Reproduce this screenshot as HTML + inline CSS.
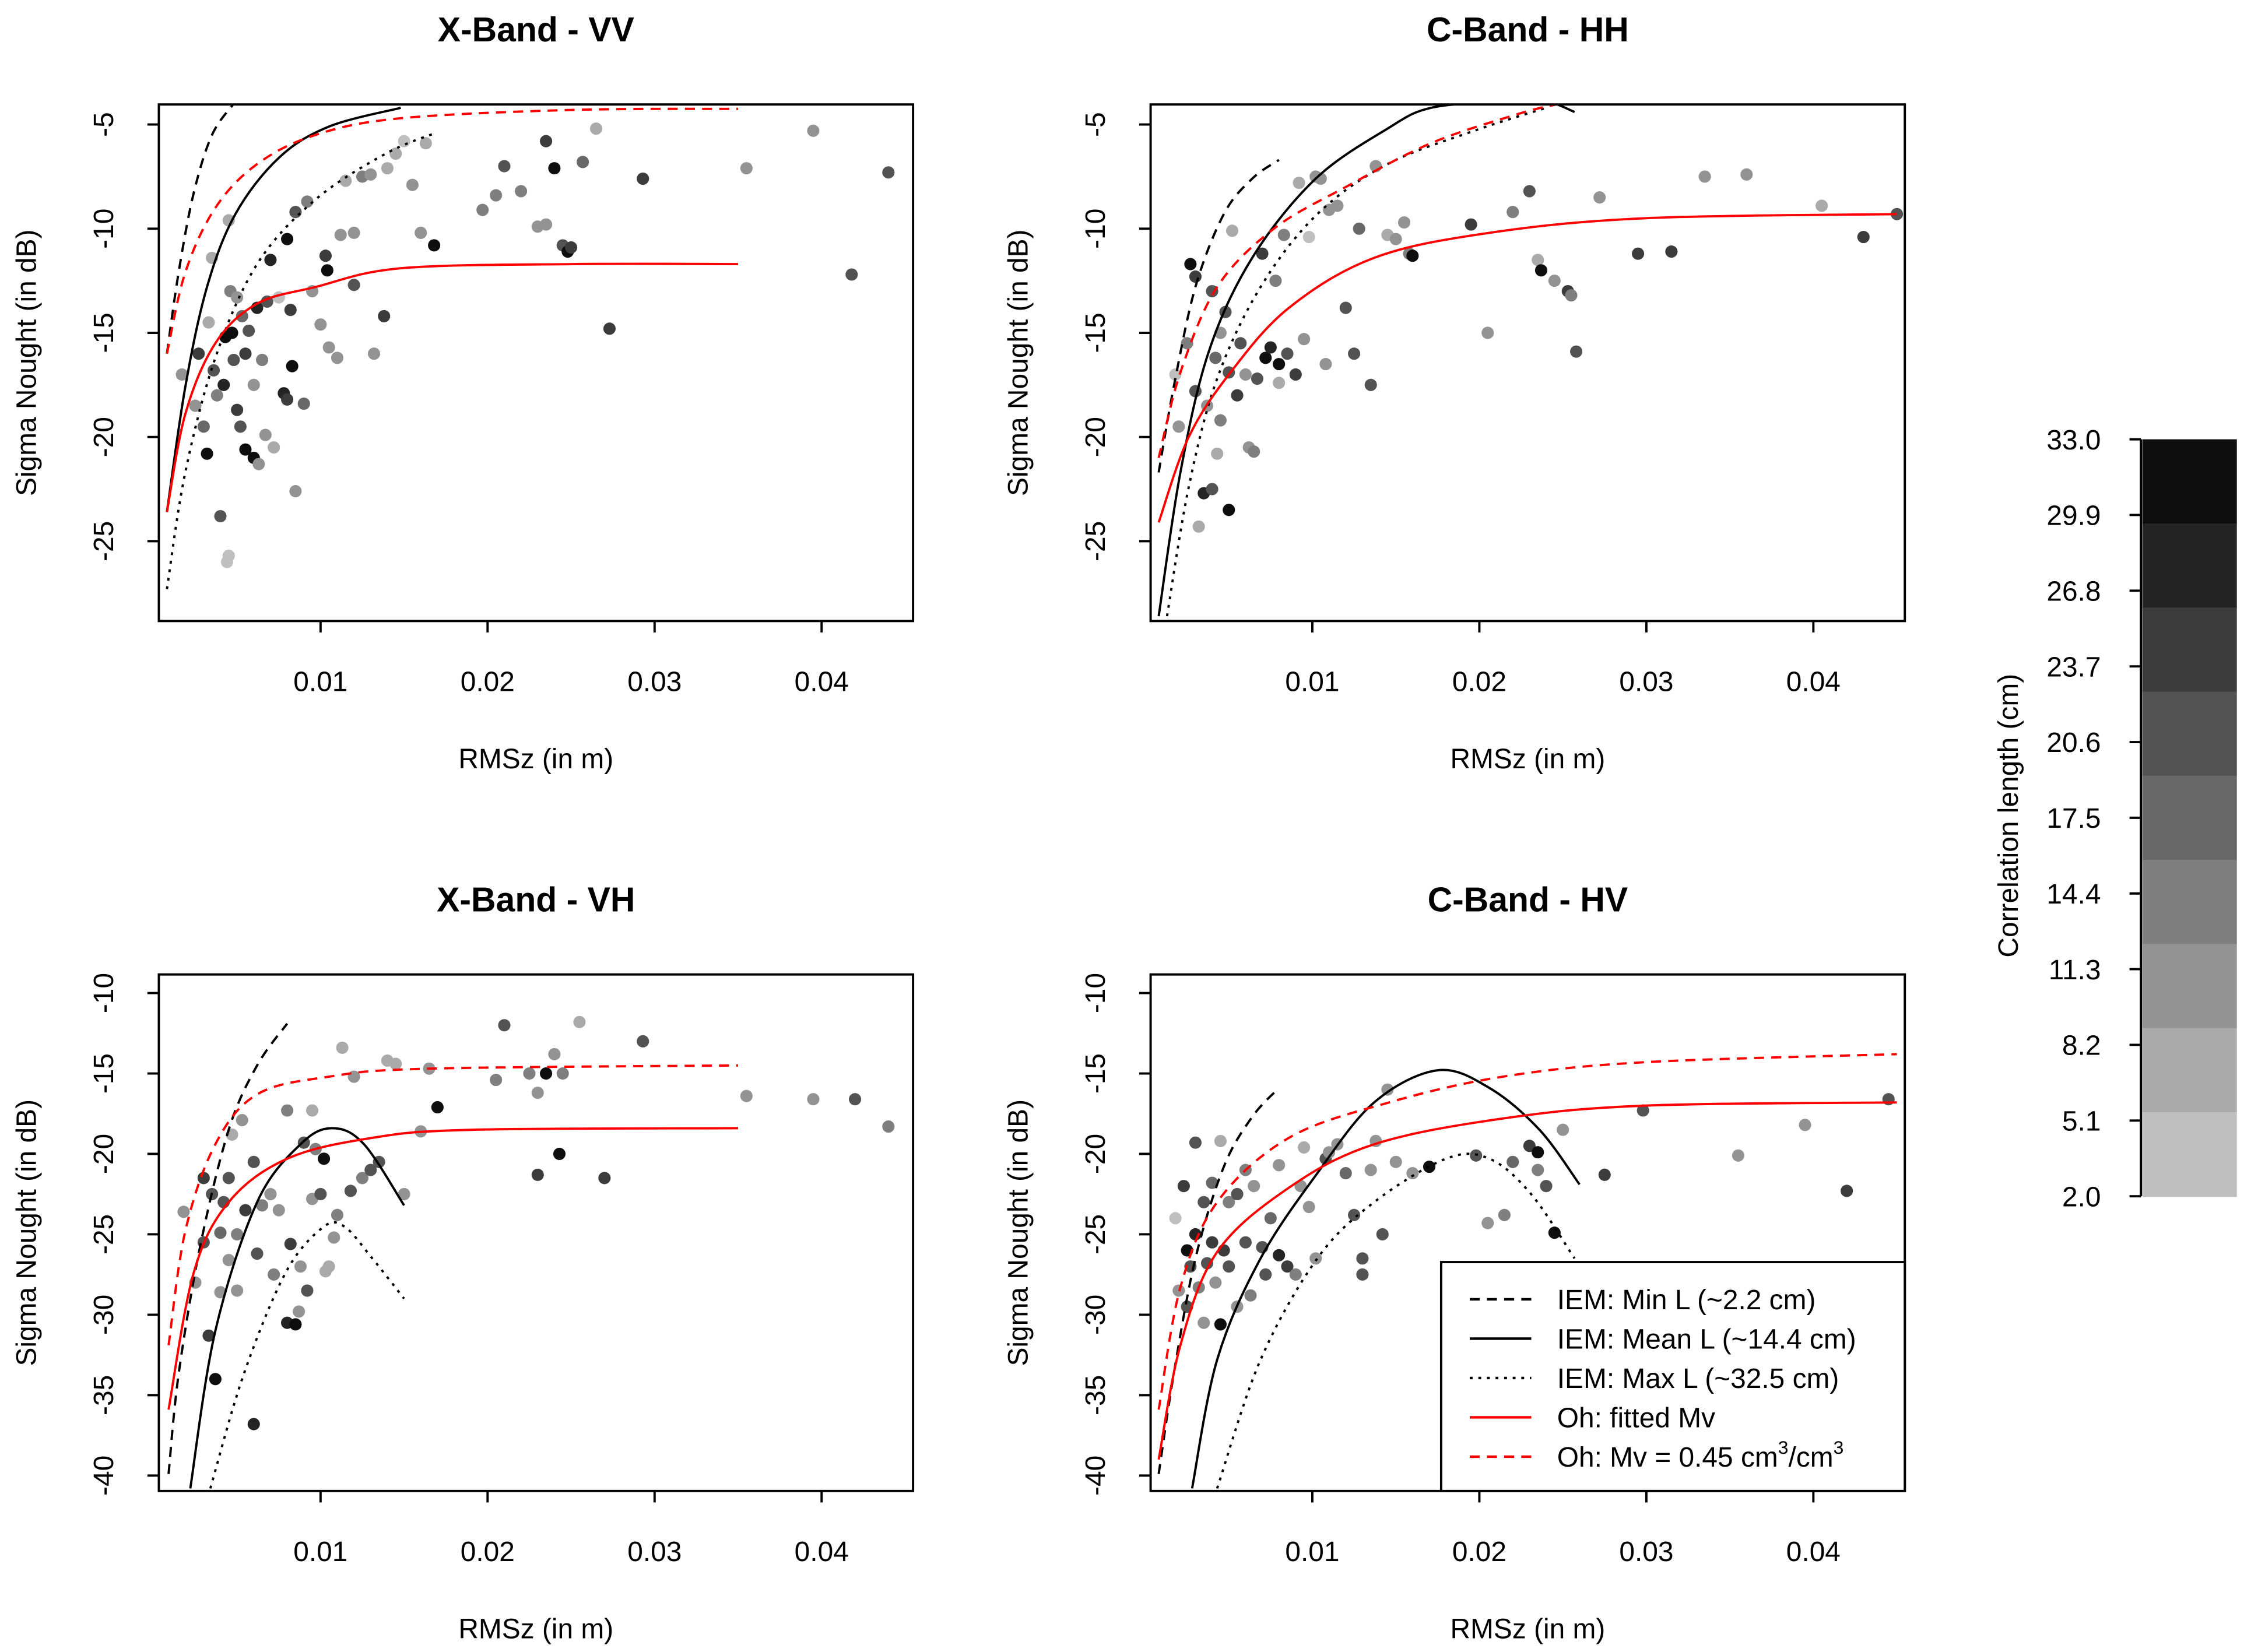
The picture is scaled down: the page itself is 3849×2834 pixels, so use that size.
<!DOCTYPE html>
<html><head><meta charset="utf-8"><style>
html,body{margin:0;padding:0;background:#fff;}
svg{display:block;}
text{font-family:"Liberation Sans",Arial,sans-serif;fill:#000;}
</style></head><body>
<svg id="fig" width="3849" height="2834" viewBox="0 0 1568 1154.5" xmlns="http://www.w3.org/2000/svg"></svg>
<script>
// ---------- data (x: RMSz in m, y: sigma0 in dB, L: correlation length cm) ----------
const xTicks = [0.01, 0.02, 0.03, 0.04];
const xTickLabels = ["0.01", "0.02", "0.03", "0.04"];
const yTicksTop = [-5, -10, -15, -20, -25];
const yTicksBottom = [-10, -15, -20, -25, -30, -35, -40];
const cbLabels = ["33.0","29.9","26.8","23.7","20.6","17.5","14.4","11.3","8.2","5.1","2.0"];
const cbColors = ["#0e0e0e","#242424","#3c3c3c","#535353","#686868","#7f7f7f","#939393","#aaaaaa","#bfbfbf"];
const legendLabels = ["IEM: Min L (~2.2 cm)","IEM: Mean L (~14.4 cm)","IEM: Max L (~32.5 cm)","Oh: fitted Mv","Oh: Mv = 0.45 cm"];

const vvPoints = [[.0017,-17,10],[.0025,-18.5,12],[.0027,-16,25],[.003,-19.5,18],[.0032,-20.8,30],[.0033,-14.5,8],[.0035,-11.4,6],[.0036,-16.8,20],[.0038,-18,15],[.004,-23.8,20],[.0042,-17.5,28],[.0043,-15.2,32],[.0044,-26,4],[.0045,-25.7,5],[.0045,-9.6,8],[.0046,-13,14],[.0047,-15,30],[.0048,-16.3,22],[.005,-18.7,26],[.005,-13.3,10],[.0052,-19.5,20],[.0053,-14.2,18],[.0055,-20.6,30],[.0055,-16,25],[.0057,-14.9,22],[.006,-21,31],[.006,-17.5,12],[.0062,-13.8,28],[.0063,-21.3,12],[.0065,-16.3,15],[.0067,-19.9,10],[.0068,-13.5,20],[.007,-11.5,27],[.0072,-20.5,8],[.0075,-13.3,5],[.0078,-17.9,28],[.008,-18.2,26],[.008,-10.5,30],[.0082,-13.9,25],[.0083,-16.6,30],[.0085,-22.6,10],[.0085,-9.2,20],[.009,-18.4,18],[.0092,-8.7,15],[.0095,-13,12],[.01,-14.6,12],[.0103,-11.3,25],[.0104,-12,30],[.0105,-15.7,10],[.011,-16.2,10],[.0112,-10.3,10],[.0115,-7.7,8],[.012,-10.2,10],[.012,-12.7,20],[.0125,-7.5,15],[.013,-7.4,12],[.0132,-16,12],[.0138,-14.2,25],[.014,-7.1,8],[.0145,-6.4,6],[.015,-5.8,4],[.0155,-7.9,10],[.016,-10.2,10],[.0163,-5.9,6],[.0168,-10.8,32],[.0197,-9.1,15],[.0205,-8.4,14],[.021,-7,20],[.022,-8.2,15],[.023,-9.9,12],[.0235,-5.8,25],[.0235,-9.8,12],[.024,-7.1,30],[.0245,-10.8,20],[.0248,-11.1,30],[.025,-10.9,25],[.0257,-6.8,18],[.0265,-5.2,8],[.0273,-14.8,25],[.0293,-7.6,25],[.0355,-7.1,12],[.0395,-5.3,10],[.0418,-12.2,22],[.044,-7.3,22]];
const hhPoints = [[.0018,-17,5],[.002,-19.5,10],[.0025,-15.5,14],[.0027,-11.7,30],[.003,-12.3,25],[.003,-17.8,20],[.0032,-24.3,8],[.0035,-22.7,28],[.0037,-18.5,12],[.004,-13,22],[.004,-22.5,20],[.0042,-16.2,18],[.0043,-20.8,6],[.0045,-15,12],[.0045,-19.2,15],[.0048,-14,20],[.005,-23.5,32],[.005,-16.9,22],[.0052,-10.1,8],[.0055,-18,25],[.0057,-15.5,22],[.006,-17,10],[.0062,-20.5,10],[.0065,-20.7,15],[.0067,-17.2,20],[.007,-11.2,25],[.0072,-16.2,30],[.0075,-15.7,28],[.0078,-12.5,14],[.008,-16.5,30],[.008,-17.4,6],[.0083,-10.3,15],[.0085,-16,20],[.009,-17,25],[.0092,-7.8,8],[.0095,-15.3,12],[.0098,-10.4,4],[.0102,-7.5,10],[.0105,-7.6,12],[.0108,-16.5,12],[.011,-9.1,12],[.0115,-8.9,10],[.012,-13.8,20],[.0125,-16,20],[.0128,-10,18],[.0135,-17.5,22],[.0138,-7,10],[.0145,-10.3,8],[.015,-10.5,12],[.0155,-9.7,10],[.0158,-11.2,15],[.016,-11.3,30],[.0195,-9.8,25],[.0205,-15,12],[.022,-9.2,15],[.0235,-11.5,8],[.0245,-12.5,12],[.0237,-12,32],[.023,-8.2,22],[.0253,-13,25],[.0255,-13.2,14],[.0258,-15.9,20],[.0272,-8.5,10],[.0295,-11.2,25],[.0315,-11.1,26],[.0335,-7.5,10],[.036,-7.4,10],[.0405,-8.9,8],[.043,-10.4,25],[.045,-9.3,20]];
const vhPoints = [[.0018,-23.6,10],[.0025,-28,12],[.003,-21.5,25],[.003,-25.5,20],[.0033,-31.3,25],[.0035,-22.5,20],[.0037,-34,32],[.004,-24.9,18],[.004,-28.6,12],[.0042,-23,22],[.0045,-26.6,10],[.0045,-21.5,20],[.0047,-18.8,8],[.005,-25,15],[.005,-28.5,10],[.0053,-17.9,10],[.0055,-23.5,25],[.006,-36.8,28],[.006,-20.5,22],[.0062,-26.2,20],[.0065,-23.2,14],[.007,-22.5,12],[.0072,-27.5,15],[.0075,-23.5,12],[.008,-17.3,15],[.008,-30.5,28],[.0082,-25.6,25],[.0085,-30.6,32],[.0087,-29.8,12],[.0088,-27,10],[.009,-19.3,20],[.0092,-28.5,22],[.0095,-17.3,8],[.0095,-22.8,10],[.0097,-19.7,15],[.01,-22.5,20],[.0102,-20.3,30],[.0103,-27.3,8],[.0105,-27,8],[.0108,-25.2,10],[.011,-23.8,15],[.0113,-13.4,6],[.0118,-22.3,20],[.012,-15.2,10],[.0125,-21.5,15],[.013,-21,22],[.0135,-20.5,20],[.014,-14.2,8],[.0145,-14.4,8],[.015,-22.5,12],[.016,-18.6,10],[.0165,-14.7,12],[.017,-17.1,30],[.0205,-15.4,14],[.021,-12,20],[.0225,-15,15],[.023,-16.2,12],[.023,-21.3,25],[.0235,-15,30],[.024,-13.8,10],[.0243,-20,30],[.0255,-11.8,6],[.0245,-15,15],[.027,-21.5,25],[.0293,-13,20],[.0355,-16.4,12],[.0395,-16.6,10],[.042,-16.6,20],[.044,-18.3,15]];
const hvPoints = [[.0018,-24,5],[.002,-28.5,10],[.0023,-22,25],[.0025,-26,30],[.0025,-29.5,20],[.0027,-27,22],[.003,-19.3,20],[.003,-25,28],[.0032,-28.3,14],[.0035,-23,22],[.0035,-30.5,12],[.0037,-26.8,20],[.004,-21.8,18],[.004,-25.5,25],[.0042,-28,10],[.0045,-19.2,8],[.0045,-30.6,30],[.0047,-26,25],[.005,-23,14],[.005,-27,20],[.0055,-22.5,20],[.0055,-29.5,12],[.006,-25.5,22],[.006,-21,15],[.0063,-28.8,15],[.0065,-22,12],[.007,-25.8,20],[.0072,-27.5,22],[.0075,-24,18],[.008,-20.7,12],[.008,-26.3,28],[.0085,-27,25],[.009,-27.5,14],[.0093,-22,10],[.0095,-19.6,6],[.0098,-23.3,12],[.0102,-26.5,10],[.0108,-20.3,20],[.011,-19.9,12],[.0115,-19.4,10],[.012,-21.2,18],[.0125,-23.8,20],[.013,-26.5,22],[.013,-27.5,20],[.0135,-21,12],[.0138,-19.2,10],[.0142,-25,22],[.0145,-16,10],[.015,-20.5,12],[.016,-21.2,10],[.017,-20.8,30],[.0198,-20.1,20],[.0205,-24.3,12],[.0215,-23.8,14],[.022,-20.5,18],[.023,-19.5,25],[.0235,-19.9,30],[.0235,-21,15],[.024,-22,20],[.025,-18.5,10],[.0245,-24.9,30],[.0275,-21.3,25],[.0298,-17.3,22],[.0355,-20.1,12],[.0395,-18.2,10],[.042,-22.3,25],[.0445,-16.6,20]];

// curves: [minL dashed, meanL solid, maxL dotted, oh fitted, oh 0.45]
const vvMin = [[.0008,-16],[.0015,-12.1],[.0024,-8.3],[.0035,-5.5],[.0048,-4]];
const vvMean = [[.0008,-23.6],[.0019,-17.6],[.0032,-12.8],[.0049,-9.3],[.0075,-6.6],[.0105,-5.1],[.0148,-4.2]];
const vvMax = [[.0008,-27.3],[.0019,-21.7],[.0037,-16.2],[.0062,-11.7],[.0097,-8.6],[.0139,-6.4],[.0169,-5.4]];
const vvOh = [[.0008,-23.6],[.0019,-18.9],[.0037,-15.5],[.0062,-13.6],[.0097,-12.8],[.0148,-11.9],[.0251,-11.7],[.035,-11.7]];
const vvOh45 = [[.0008,-16],[.0019,-12.1],[.0037,-9],[.0062,-6.9],[.0097,-5.5],[.0148,-4.7],[.0251,-4.3],[.035,-4.25]];

const hhMin = [[.0008,-21.7],[.0017,-17.6],[.003,-12.8],[.0047,-9.3],[.0064,-7.6],[.008,-6.7]];
const hhMean = [[.0008,-28.6],[.0021,-21.7],[.0038,-15.9],[.0064,-11.4],[.0102,-7.6],[.0145,-5.2],[.0171,-4.2],[.0214,-3.9],[.024,-3.9],[.0257,-4.4]];
const hhMax = [[.0013,-28.6],[.0026,-22.4],[.0043,-17.2],[.0069,-12.8],[.0103,-9.3],[.0145,-6.9],[.0197,-5.3],[.024,-4.2]];
const hhOh = [[.0008,-24.1],[.0026,-20],[.0051,-16.9],[.0086,-13.8],[.0137,-11.4],[.0206,-10.2],[.0299,-9.5],[.045,-9.3]];
const hhOh45 = [[.0008,-21],[.0021,-16.9],[.0043,-12.8],[.0077,-10],[.012,-8],[.0171,-5.9],[.0223,-4.5],[.0248,-4]];

const vhMin = [[.0009,-39.9],[.0015,-33.7],[.0028,-25.7],[.0045,-18.5],[.0062,-14.5],[.008,-11.9]];
const vhMean = [[.0022,-40.8],[.0037,-31],[.0062,-23],[.0088,-19.4],[.0107,-18.4],[.0126,-19.4],[.015,-23.2]];
const vhMax = [[.0034,-40.8],[.0054,-33.7],[.0079,-27.4],[.0101,-24.6],[.0114,-24.5],[.0131,-26.5],[.015,-29]];
const vhOh = [[.0009,-35.9],[.0024,-27.4],[.0045,-23],[.008,-20.3],[.0131,-19],[.0191,-18.5],[.035,-18.4]];
const vhOh45 = [[.0009,-31.9],[.0019,-24.8],[.0037,-19.4],[.0062,-16.3],[.0105,-15.2],[.0165,-14.7],[.035,-14.5]];

const hvMin = [[.0008,-39.9],[.0017,-33.7],[.003,-26.5],[.0047,-20.8],[.0064,-17.7],[.008,-15.9]];
const hvMean = [[.0028,-40.8],[.0043,-32.8],[.0069,-26.5],[.0103,-21.2],[.0137,-16.8],[.0175,-14.8],[.0206,-15.9],[.0236,-18.5],[.026,-21.9]];
const hvMax = [[.0043,-40.8],[.0069,-32.8],[.0103,-26.5],[.0137,-23],[.018,-20.3],[.0206,-20.3],[.0231,-22.5],[.0257,-26.5]];
const hvOh = [[.0008,-39],[.0021,-31.9],[.0043,-26.1],[.0086,-22.1],[.0137,-19.4],[.0214,-17.8],[.0299,-17],[.045,-16.8]];
const hvOh45 = [[.0008,-35.9],[.0021,-28.3],[.0043,-23],[.0086,-19],[.0146,-16.8],[.0214,-15.2],[.0299,-14.3],[.045,-13.8]];

// ---------- drawing ----------
const NS = "http://www.w3.org/2000/svg";
const svg = document.getElementById('fig');
function mk(tag, attrs, parent) {
  const e = document.createElementNS(NS, tag);
  for (const k in attrs) e.setAttribute(k, attrs[k]);
  (parent || svg).appendChild(e);
  return e;
}
function colorFor(L) {
  let i = Math.floor((33 - L) / (31 / 9));
  i = Math.max(0, Math.min(8, i));
  return cbColors[i];
}
function smoothPath(pts) {
  let d = "M" + pts[0][0].toFixed(2) + "," + pts[0][1].toFixed(2);
  for (let i = 0; i < pts.length - 1; i++) {
    const p0 = pts[i - 1] || pts[i], p1 = pts[i], p2 = pts[i + 1], p3 = pts[i + 2] || p2;
    const c1 = [p1[0] + (p2[0] - p0[0]) / 6, p1[1] + (p2[1] - p0[1]) / 6];
    const c2 = [p2[0] - (p3[0] - p1[0]) / 6, p2[1] - (p3[1] - p1[1]) / 6];
    d += " C" + c1.join(",") + " " + c2.join(",") + " " + p2[0] + "," + p2[1];
  }
  return d;
}

const panels = [
  {key:'x-band-vv', title:'X-Band - VV', left:111, top:73, x0:107.3, y0:87, yRef:-5, yScale:14.56, yTicks:yTicksTop, pts:vvPoints, curves:[vvMin,vvMean,vvMax,vvOh,vvOh45]},
  {key:'c-band-hh', title:'C-Band - HH', left:804, top:73, x0:800.3, y0:87, yRef:-5, yScale:14.56, yTicks:yTicksTop, pts:hhPoints, curves:[hhMin,hhMean,hhMax,hhOh,hhOh45]},
  {key:'x-band-vh', title:'X-Band - VH', left:111, top:681, x0:107.3, y0:694, yRef:-10, yScale:11.24, yTicks:yTicksBottom, pts:vhPoints, curves:[vhMin,vhMean,vhMax,vhOh,vhOh45]},
  {key:'c-band-hv', title:'C-Band - HV', left:804, top:681, x0:800.3, y0:694, yRef:-10, yScale:11.24, yTicks:yTicksBottom, pts:hvPoints, curves:[hvMin,hvMean,hvMax,hvOh,hvOh45], legend:true}
];
const W = 527, H = 361;
const curveStyles = [
  {stroke:'#000', dash:'7,5', name:'iem-min-l-curve'},
  {stroke:'#000', dash:'', name:'iem-mean-l-curve'},
  {stroke:'#000', dash:'2,4', name:'iem-max-l-curve'},
  {stroke:'#f00', dash:'', name:'oh-fitted-mv-curve'},
  {stroke:'#f00', dash:'7,5', name:'oh-mv-045-curve'}
];

panels.forEach((p, pi) => {
  const sx = v => p.x0 + v * 11670;
  const sy = v => p.y0 + (p.yRef - v) * p.yScale;
  const g = mk('g', {});
  
  
  const cp = mk('clipPath', {id:'clip' + pi}, g);
  mk('rect', {x:p.left, y:p.top, width:W, height:H}, cp);

  const t = mk('text', {x:p.left + W/2, y:p.top - 44, 'text-anchor':'middle', 'font-size':'24', 'font-weight':'bold'}, g);
  t.textContent = p.title;
  
  

  // points
  const pg = mk('g', {'clip-path':'url(#clip' + pi + ')'}, g);
  p.pts.forEach(d => {
    const c = mk('circle', {cx:sx(d[0]), cy:sy(d[1]), r:4.3, fill:colorFor(d[2])}, pg);
    
    
  });
  // curves
  p.curves.forEach((cv, ci) => {
    const st = curveStyles[ci];
    const path = mk('path', {d:smoothPath(cv.map(q => [sx(q[0]), sy(q[1])])), fill:'none', stroke:st.stroke, 'stroke-width':1.6, 'stroke-dasharray':st.dash}, pg);
    
    
  });

  // box
  const box = mk('rect', {x:p.left, y:p.top, width:W, height:H, fill:'none', stroke:'#000', 'stroke-width':1.6}, g);
  
  

  // x ticks
  xTicks.forEach((v, i) => {
    mk('line', {x1:sx(v), x2:sx(v), y1:p.top + H, y2:p.top + H + 8, stroke:'#000', 'stroke-width':1.6}, g);
    const tl = mk('text', {x:sx(v), y:p.top + H + 49, 'text-anchor':'middle', 'font-size':'19.5'}, g);
    tl.textContent = xTickLabels[i];
    
    
  });
  // y ticks
  p.yTicks.forEach(v => {
    const y = sy(v);
    mk('line', {x1:p.left - 8, x2:p.left, y1:y, y2:y, stroke:'#000', 'stroke-width':1.6}, g);
    const tl = mk('text', {x:0, y:0, 'text-anchor':'middle', 'font-size':'19.5', transform:'translate(' + (p.left - 32) + ',' + y + ') rotate(-90)'}, g);
    tl.textContent = String(v);
    
    
  });
  const xt = mk('text', {x:p.left + W/2, y:p.top + H + 103, 'text-anchor':'middle', 'font-size':'19.5'}, g);
  xt.textContent = 'RMSz (in m)';
  
  
  const yt = mk('text', {x:0, y:0, 'text-anchor':'middle', 'font-size':'19.5', transform:'translate(' + (p.left - 86) + ',' + (p.top + H/2) + ') rotate(-90)'}, g);
  yt.textContent = 'Sigma Nought (in dB)';
  
  

  if (p.legend) {
    const lg = mk('g', {}, g);
    
    
    mk('rect', {x:1007, y:882, width:324, height:160, fill:'#fff', stroke:'#000', 'stroke-width':1.6}, lg);
    legendLabels.forEach((lab, i) => {
      const y = 908 + i * 27.5;
      const st = curveStyles[i];
      mk('line', {x1:1027, x2:1070, y1:y, y2:y, stroke:st.stroke, 'stroke-width':1.8, 'stroke-dasharray':st.dash}, lg);
      const tx = mk('text', {x:1088, y:y + 7, 'font-size':'19.5'}, lg);
      
      
      if (i === 4) {
        tx.textContent = lab;
        const s1 = mk('tspan', {dy:-9, 'font-size':'13'}, tx); s1.textContent = '3';
        const s2 = mk('tspan', {dy:9}, tx); s2.textContent = '/cm';
        const s3 = mk('tspan', {dy:-9, 'font-size':'13'}, tx); s3.textContent = '3';
      } else tx.textContent = lab;
    });
  }
});

// colorbar
const cb = mk('g', {});


const cbTop = 307, cbBot = 836, cbL = 1497, cbR = 1563;
const bandH = (cbBot - cbTop) / cbColors.length;
cbColors.forEach((c, i) => {
  const r = mk('rect', {x:cbL, y:cbTop + i * bandH, width:cbR - cbL, height:bandH + 0.5, fill:c}, cb);
  
  
});
mk('line', {x1:cbL - 1, x2:cbL - 1, y1:cbTop, y2:cbBot, stroke:'#000', 'stroke-width':1.6}, cb);
cbLabels.forEach((lab, i) => {
  const y = cbTop + i * (cbBot - cbTop) / (cbLabels.length - 1);
  mk('line', {x1:cbL - 9, x2:cbL - 1, y1:y, y2:y, stroke:'#000', 'stroke-width':1.6}, cb);
  const t = mk('text', {x:cbL - 29, y:y + 7, 'text-anchor':'end', 'font-size':'19.5'}, cb);
  t.textContent = lab;
  
  
});
const cbt = mk('text', {x:0, y:0, 'text-anchor':'middle', 'font-size':'19.5', transform:'translate(1410,570) rotate(-90)'}, cb);
cbt.textContent = 'Correlation length (cm)';


</script>
</body></html>
